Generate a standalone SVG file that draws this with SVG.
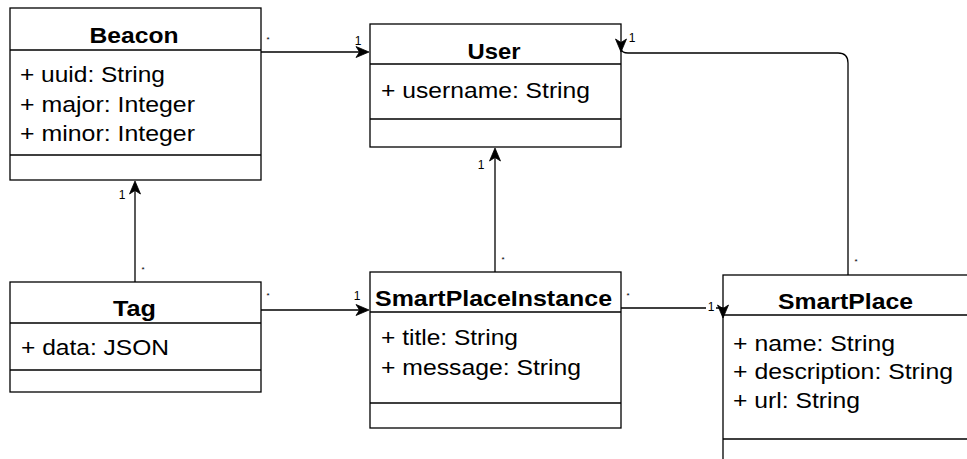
<svg xmlns="http://www.w3.org/2000/svg" width="967" height="459" viewBox="0 0 967 459">
  <style>
    .box { fill: #ffffff; stroke: #000000; stroke-width: 1.3; }
    .sep { stroke: #000000; stroke-width: 1.3; fill: none; }
    .title { font-family: "Liberation Sans", Arial, sans-serif; font-size: 21.5px; font-weight: bold; fill: #000000; text-anchor: middle; }
    .attr { font-family: "Liberation Sans", Arial, sans-serif; font-size: 21.5px; fill: #000000; }
    .edge { fill: none; stroke: #000000; stroke-width: 1.3; }
    .mult { font-family: "Liberation Sans", Arial, sans-serif; font-size: 12px; fill: #000000; text-anchor: middle; }
    .many { font-family: "Liberation Sans", Arial, sans-serif; font-size: 8px; fill: #000000; text-anchor: middle; }
    .head { fill: #000000; stroke: #000000; stroke-width: 0.8; stroke-linejoin: round; }
  </style>
  <defs>
    <!-- classic arrowhead, tip at origin, pointing along +x -->
    <path id="arrow" class="head" d="M0,0 L-13,-5.5 L-9.5,0 L-13,5.5 Z"/>
  </defs>

  <rect width="967" height="459" fill="#ffffff"/>

  <!-- Beacon -->
  <g id="beacon">
    <rect class="box" x="10" y="8" width="251" height="172"/>
    <path class="sep" d="M10,50 H261 M10,155 H261"/>
    <text class="title" x="134" y="43" textLength="89" lengthAdjust="spacingAndGlyphs">Beacon</text>
    <text class="attr" x="20" y="82" textLength="145" lengthAdjust="spacingAndGlyphs">+ uuid: String</text>
    <text class="attr" x="20" y="111.5" textLength="175" lengthAdjust="spacingAndGlyphs">+ major: Integer</text>
    <text class="attr" x="20" y="141" textLength="175" lengthAdjust="spacingAndGlyphs">+ minor: Integer</text>
  </g>

  <!-- User -->
  <g id="user">
    <rect class="box" x="370" y="24" width="251" height="123"/>
    <path class="sep" d="M370,64 H621 M370,119 H621"/>
    <text class="title" x="494" y="59" textLength="53" lengthAdjust="spacingAndGlyphs">User</text>
    <text class="attr" x="381" y="98" textLength="209" lengthAdjust="spacingAndGlyphs">+ username: String</text>
  </g>

  <!-- Tag -->
  <g id="tag">
    <rect class="box" x="10" y="282" width="251" height="110"/>
    <path class="sep" d="M10,323 H261 M10,370 H261"/>
    <text class="title" x="134.5" y="316" textLength="43" lengthAdjust="spacingAndGlyphs">Tag</text>
    <text class="attr" x="21" y="355" textLength="148" lengthAdjust="spacingAndGlyphs">+ data: JSON</text>
  </g>

  <!-- SmartPlaceInstance -->
  <g id="smartplaceinstance">
    <rect class="box" x="370" y="272" width="251" height="156"/>
    <path class="sep" d="M370,312 H621 M370,403 H621"/>
    <text class="title" x="493.5" y="306" textLength="237" lengthAdjust="spacingAndGlyphs">SmartPlaceInstance</text>
    <text class="attr" x="381" y="345" textLength="137" lengthAdjust="spacingAndGlyphs">+ title: String</text>
    <text class="attr" x="381" y="375" textLength="200" lengthAdjust="spacingAndGlyphs">+ message: String</text>
  </g>

  <!-- SmartPlace -->
  <g id="smartplace">
    <rect class="box" x="723" y="275" width="251" height="195"/>
    <path class="sep" d="M723,315 H974 M723,439 H974"/>
    <text class="title" x="845.5" y="308.5" textLength="135" lengthAdjust="spacingAndGlyphs">SmartPlace</text>
    <text class="attr" x="733" y="350.5" textLength="162" lengthAdjust="spacingAndGlyphs">+ name: String</text>
    <text class="attr" x="733" y="379" textLength="220" lengthAdjust="spacingAndGlyphs">+ description: String</text>
    <text class="attr" x="733" y="408" textLength="127" lengthAdjust="spacingAndGlyphs">+ url: String</text>
  </g>

  <!-- connectors, drawn over the class boxes so arrowheads stay visible -->
  <g id="connectors">
    <!-- Beacon -> User -->
    <path class="edge" d="M261,52 H362"/>
    <use href="#arrow" transform="translate(369,52)"/>
    <text class="many" x="268" y="42">*</text>
    <text class="mult" x="358" y="45">1</text>

    <!-- Tag -> Beacon -->
    <path class="edge" d="M135,282 V188"/>
    <use href="#arrow" transform="translate(135,181) rotate(-90)"/>
    <text class="mult" x="122" y="199">1</text>
    <text class="many" x="143" y="272">*</text>

    <!-- Tag -> SmartPlaceInstance -->
    <path class="edge" d="M261,310 H362"/>
    <use href="#arrow" transform="translate(369,310)"/>
    <text class="many" x="268" y="298">*</text>
    <text class="mult" x="357" y="300">1</text>

    <!-- SmartPlaceInstance -> User -->
    <path class="edge" d="M495,272 V155"/>
    <use href="#arrow" transform="translate(495,148) rotate(-90)"/>
    <text class="mult" x="481" y="169">1</text>
    <text class="many" x="503" y="262">*</text>

    <!-- SmartPlaceInstance -> SmartPlace -->
    <path class="edge" d="M621,308 H723 V312"/>
    <use href="#arrow" transform="translate(723,318) rotate(90)"/>
    <text class="many" x="628" y="298">*</text>
    <rect x="706" y="300" width="10" height="14" fill="#ffffff"/>
    <text class="mult" x="711" y="311">1</text>

    <!-- SmartPlace -> User -->
    <path class="edge" d="M848,275 V63 Q848,53 838,53 H628 Q622,53 621,49"/>
    <use href="#arrow" transform="translate(621,52) rotate(90)"/>
    <text class="mult" x="632" y="42">1</text>
    <text class="many" x="856" y="264">*</text>
  </g>
</svg>
